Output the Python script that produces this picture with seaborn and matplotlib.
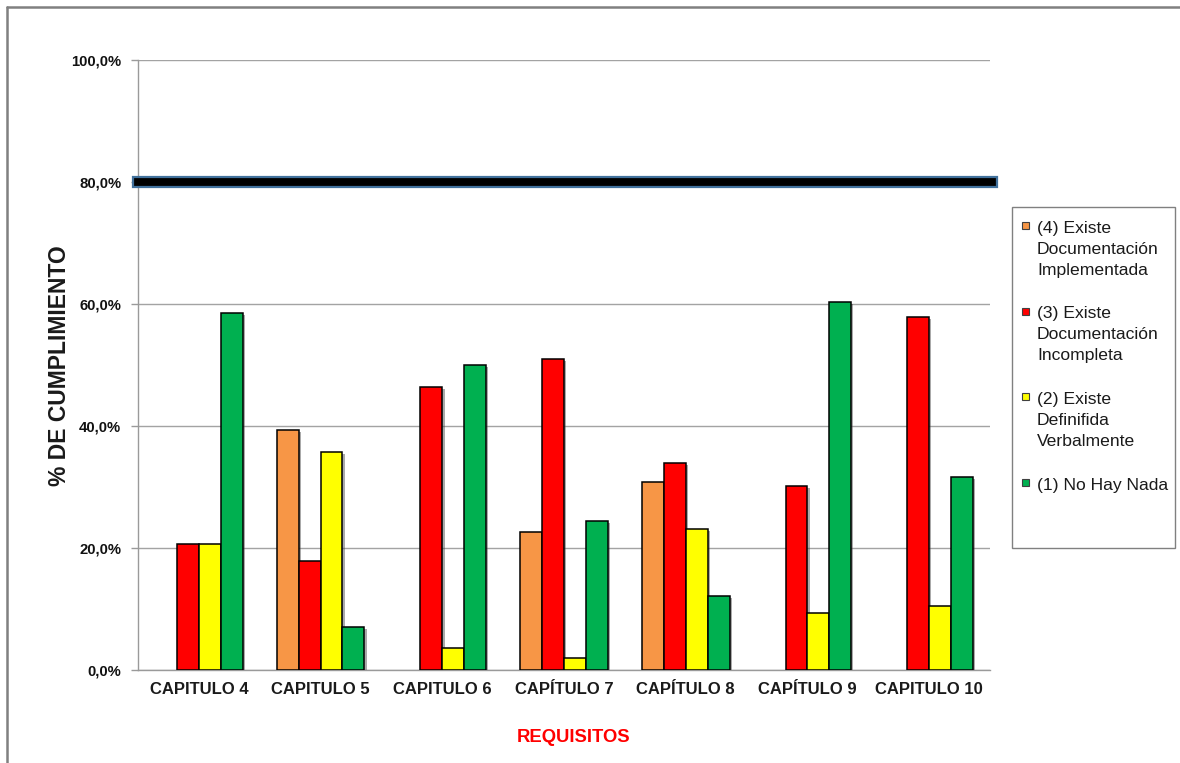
import numpy as np
import pandas as pd
import matplotlib
matplotlib.use("Agg")
import matplotlib.pyplot as plt
import matplotlib.patheffects as pe
from matplotlib import font_manager
from matplotlib.lines import Line2D
from matplotlib.patches import Rectangle
import seaborn as sns

# Chapters evaluated and compliance levels
capitulos = ["CAPITULO 4", "CAPITULO 5", "CAPITULO 6", "CAPÍTULO 7",
             "CAPÍTULO 8", "CAPÍTULO 9", "CAPITULO 10"]
niveles = ["(4) Existe\nDocumentación\nImplementada",
           "(3) Existe\nDocumentación\nIncompleta",
           "(2) Existe\nDefinifida\nVerbalmente",
           "(1) No Hay Nada"]
colores = ["#F79646", "#FF0000", "#FFFF00", "#00B050"]

# Percentage of requirements per level (NaN = no bar)
nivel4 = [np.nan, 39.3, np.nan, 22.6, 30.8, np.nan, np.nan]
nivel3 = [20.7, 17.9, 46.4, 51.0, 34.0, 30.2, 57.9]
nivel2 = [20.7, 35.7, 3.6, 1.9, 23.1, 9.4, 10.5]
nivel1 = [58.6, 7.1, 50.0, 24.5, 12.1, 60.4, 31.6]

meta = 80.0
yticks = [0, 20, 40, 60, 80, 100]
ytick_labels = ["0,0%", "20,0%", "40,0%", "60,0%", "80,0%", "100,0%"]

series = [nivel4, nivel3, nivel2, nivel1]
df = pd.DataFrame([
    {"capitulo": c, "nivel": n, "valor": v}
    for n, vals in zip(niveles, series)
    for c, v in zip(capitulos, vals)
]).dropna()

sns.set_theme(style="white")
plt.rcParams["font.family"] = ["Liberation Sans", "DejaVu Sans"]

# Condensed face for the value axis if available
installed = {f.name for f in font_manager.fontManager.ttflist}
if "Liberation Sans Narrow" in installed:
    ytick_font = dict(family="Liberation Sans Narrow", size=13)
else:
    ytick_font = dict(family="Liberation Sans", size=10.7)

W, H = 1180, 763
fig = plt.figure(figsize=(W / 100, H / 100), dpi=100)
ax = fig.add_axes([138 / W, 93 / H, 852 / W, 610 / H])

sns.barplot(data=df, x="capitulo", y="valor", hue="nivel",
            order=capitulos, hue_order=niveles, palette=colores,
            saturation=1, width=0.72, edgecolor="black", linewidth=1.1,
            errorbar=None, legend=False, ax=ax)

for bar in ax.patches:
    bar.set_path_effects([
        pe.SimplePatchShadow(offset=(1.6, -1.6), shadow_rgbFace="#444444", alpha=0.45),
        pe.Normal(),
    ])
    bar.set_zorder(3)

ax.set_ylim(0, 100)
ax.set_xlim(-0.5, len(capitulos) - 0.5)
ax.set_yticks(yticks)
ax.set_yticklabels(ytick_labels)
ax.yaxis.grid(True, color="#a3a3a3", linewidth=1.0)
ax.xaxis.grid(False)
ax.set_axisbelow(True)
for s in ["top", "right"]:
    ax.spines[s].set_visible(False)
ax.spines["left"].set_color("#9a9a9a")
ax.spines["bottom"].set_color("#9a9a9a")
ax.spines["left"].set_linewidth(1.0)
ax.spines["bottom"].set_linewidth(1.0)
ax.tick_params(axis="y", length=5, width=1, color="#9a9a9a", pad=7, left=True)
ax.tick_params(axis="x", length=0, pad=9, labelsize=12)
for lab in ax.get_yticklabels():
    lab.set_fontfamily(ytick_font["family"])
    lab.set_fontsize(ytick_font["size"])
    lab.set_fontweight("bold")
    lab.set_color("#111111")
for lab in ax.get_xticklabels():
    lab.set_fontweight("bold")
    lab.set_color("#1a1a1a")
ax.set_xlabel("")
ax.set_ylabel("")

# Target line at 80 %
ax.add_patch(Rectangle((-0.006, meta - 0.82), 1.014, 1.64,
                       transform=ax.get_yaxis_transform(),
                       facecolor="black", edgecolor="#41719C", linewidth=1.6,
                       clip_on=False, zorder=6))

fig.text(60 / W, 1 - 366 / H, "% DE CUMPLIMIENTO", rotation=90,
         ha="center", va="center", fontsize=16.5, fontweight="bold",
         color="#1a1a1a")
fig.text(574 / W, 1 - 738 / H, "REQUISITOS", ha="center", va="center",
         fontsize=13.3, fontweight="bold", color="#FF0000")

# Legend panel
fig.add_artist(Rectangle((1012 / W, 1 - 548 / H), 163 / W, 341 / H,
                         transform=fig.transFigure, fill=False,
                         edgecolor="#808080", linewidth=1.0))
for i, (lab, col) in enumerate(zip(niveles, colores)):
    base = 232.5 + 85.7 * i
    fig.add_artist(Rectangle((1022 / W, 1 - (base - 3.5) / H), 7 / W, 7 / H,
                             transform=fig.transFigure, facecolor=col,
                             edgecolor="#404040", linewidth=0.8))
    for j, line in enumerate(lab.split("\n")):
        fig.text(1037 / W, 1 - (base + 21 * j) / H, line,
                 ha="left", va="baseline", fontsize=12.6, color="#1a1a1a")

# Outer frame (top and left edges)
fig.add_artist(Line2D([6.5 / W, 1], [1 - 6.5 / H, 1 - 6.5 / H],
                      transform=fig.transFigure, color="#808080", linewidth=1.8))
fig.add_artist(Line2D([6.5 / W, 6.5 / W], [0, 1 - 6.5 / H],
                      transform=fig.transFigure, color="#808080", linewidth=1.8))

fig.savefig("out.png", dpi=100)
